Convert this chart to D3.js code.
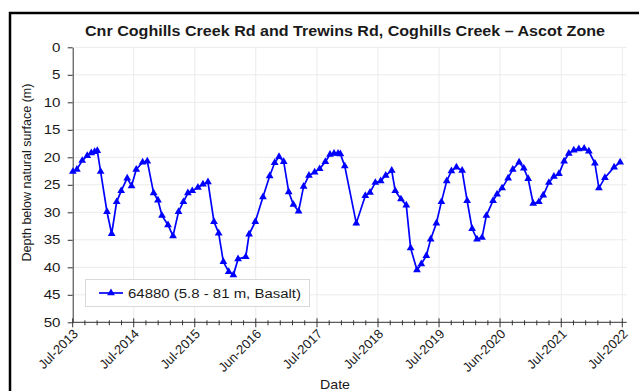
<!DOCTYPE html>
<html>
<head>
<meta charset="utf-8">
<script src="https://cdn.jsdelivr.net/npm/d3@7"></script>
<style>
  html, body { margin: 0; padding: 0; background: #fff; }
  svg { display: block; font-family: "Liberation Sans", Arial, sans-serif; }
</style>
</head>
<body>
<svg id="chart" width="639" height="391"></svg>
<script>
// Bore 64880 groundwater depth readings (m below natural surface)
const sampleDates = [
  "2013-07-02","2013-07-26","2013-08-27","2013-09-26","2013-10-20","2013-11-09","2013-11-25","2013-12-15",
  "2014-01-22","2014-02-19","2014-03-21","2014-04-17","2014-05-23","2014-06-18","2014-07-16","2014-08-23",
  "2014-09-20","2014-10-28","2014-11-23","2014-12-17","2015-01-22","2015-02-21","2015-03-26","2015-04-24",
  "2015-05-21","2015-06-16","2015-07-20","2015-08-19","2015-09-18","2015-10-24","2015-11-21","2015-12-19",
  "2016-01-20","2016-02-17","2016-03-16","2016-05-01","2016-05-21","2016-06-27","2016-08-12","2016-09-21",
  "2016-10-21","2016-11-16","2016-12-14","2017-01-13","2017-02-10","2017-03-13","2017-04-12","2017-05-14",
  "2017-06-17","2017-07-17","2017-08-20","2017-09-17","2017-10-11","2017-11-04","2017-11-18","2017-12-14",
  "2018-02-21","2018-04-16","2018-05-14","2018-06-15","2018-07-17","2018-08-16","2018-09-21","2018-10-12",
  "2018-11-15","2018-12-17","2019-01-12","2019-02-19","2019-03-17","2019-04-16","2019-05-12","2019-06-15",
  "2019-07-15","2019-08-16","2019-09-13","2019-10-13","2019-11-16","2019-12-16","2020-01-15","2020-02-13",
  "2020-03-14","2020-04-09","2020-05-19","2020-06-12","2020-07-12","2020-08-17","2020-09-14","2020-10-22",
  "2020-11-19","2020-12-15","2021-01-14","2021-02-17","2021-03-15","2021-04-18","2021-05-18","2021-06-17",
  "2021-07-18","2021-08-15","2021-09-14","2021-10-14","2021-11-15","2021-12-13","2022-01-18","2022-02-11",
  "2022-03-19","2022-05-13","2022-06-18"
];
const depths = [
  22.6, 22.2, 20.6, 19.7, 19.2, 19.0, 18.8, 22.6,
  29.9, 33.9, 28.1, 26.1, 23.8, 25.2, 22.2, 20.9,
  20.7, 26.5, 27.8, 30.6, 32.3, 34.3, 29.9, 28.1,
  26.5, 26.1, 25.5, 24.9, 24.5, 31.7, 33.8, 39.0,
  40.8, 41.4, 38.5, 38.1, 34.0, 31.7, 27.2, 23.4,
  21.0, 19.9, 20.8, 26.3, 28.6, 29.8, 25.3, 23.3,
  22.7, 22.1, 20.8, 19.5, 19.3, 19.3, 19.4, 21.6,
  32.0, 27.0, 26.4, 24.6, 24.3, 23.3, 22.4, 26.1,
  27.6, 28.7, 36.5, 40.5, 39.4, 37.9, 34.9, 32.0,
  28.1, 24.3, 22.5, 21.8, 22.4, 27.9, 33.0, 34.9,
  34.6, 30.6, 27.9, 26.7, 25.6, 23.8, 22.2, 20.9,
  22.0, 23.9, 28.4, 28.1, 26.9, 24.6, 23.5, 23.0,
  20.7, 19.3, 18.7, 18.5, 18.4, 18.9, 21.1, 25.6,
  23.7, 21.8, 20.9
];

// Date axis: major ticks roughly one year apart
const tickDates = [
  "2013-07-01","2014-07-01","2015-07-01","2016-06-30","2017-07-01",
  "2018-07-01","2019-07-01","2020-06-30","2021-07-01","2022-07-01"
];
const tickLabels = [
  "Jul-2013","Jul-2014","Jul-2015","Jun-2016","Jul-2017",
  "Jul-2018","Jul-2019","Jun-2020","Jul-2021","Jul-2022"
];
const depthTicks = [0, 5, 10, 15, 20, 25, 30, 35, 40, 45, 50];

const chartTitle = "Cnr Coghills Creek Rd and Trewins Rd, Coghills Creek \u2013 Ascot Zone";
const seriesName = "64880 (5.8 - 81 m, Basalt)";

const parse = d3.utcParse("%Y-%m-%d");
const data = sampleDates.map((d, i) => ({ date: parse(d), depth: depths[i] }));
const ticks = tickDates.map(parse);

const svg = d3.select("#chart");
const plotLeft = 72.7, plotRight = 626.7, plotTop = 47.3, plotBottom = 322.3;
const ink = "#1a1a1a", axisInk = "#333";

const x = d3.scaleUtc()
  .domain([ticks[0], ticks[ticks.length - 1]])
  .range([plotLeft, 622.3]);
const y = d3.scaleLinear().domain([0, 50]).range([plotTop, plotBottom]);

// outer frame
svg.append("rect")
  .attr("x", 10).attr("y", 13).attr("width", 660).attr("height", 420)
  .attr("fill", "none").attr("stroke", "#000").attr("stroke-width", 2.5);

// title (wide bold face)
svg.append("text")
  .attr("x", 85).attr("y", 36)
  .attr("font-size", 14).attr("font-weight", "bold")
  .attr("textLength", 520).attr("lengthAdjust", "spacingAndGlyphs")
  .attr("fill", ink)
  .text(chartTitle);

// gridlines
const grid = svg.append("g").attr("stroke", "#ebebeb").attr("stroke-width", 1);
grid.selectAll("line.h").data(depthTicks.slice(0, -1)).join("line")
  .attr("class", "h")
  .attr("x1", plotLeft).attr("x2", plotRight)
  .attr("y1", d => y(d)).attr("y2", d => y(d));
grid.selectAll("line.v").data(ticks.slice(1)).join("line")
  .attr("class", "v")
  .attr("x1", d => x(d)).attr("x2", d => x(d))
  .attr("y1", plotTop).attr("y2", plotBottom);

// y axis
const yAxis = svg.append("g")
  .attr("transform", `translate(${plotLeft},0)`)
  .call(d3.axisLeft(y).tickValues(depthTicks).tickSize(5).tickSizeOuter(0).tickFormat(""));
yAxis.select(".domain").attr("stroke", axisInk);
yAxis.selectAll(".tick line").attr("stroke", axisInk);
svg.append("g").selectAll("text").data(depthTicks).join("text")
  .attr("x", 60.5).attr("y", d => y(d)).attr("dy", "0.36em")
  .attr("text-anchor", "end")
  .attr("font-size", 13).attr("fill", ink)
  .attr("textLength", d => String(d).length * 8.4).attr("lengthAdjust", "spacingAndGlyphs")
  .text(d => d);

// x axis: minor ticks (5 divisions per year) then major ticks
const minor = [];
for (let i = 0; i < ticks.length - 1; i++) {
  const a = +ticks[i], b = +ticks[i + 1];
  for (let k = 1; k < 5; k++) minor.push(new Date(a + (b - a) * k / 5));
}
const xg = svg.append("g");
xg.append("line").attr("x1", plotLeft).attr("x2", plotRight)
  .attr("y1", plotBottom).attr("y2", plotBottom).attr("stroke", axisInk);
xg.selectAll("line.minor").data(minor).join("line")
  .attr("class", "minor")
  .attr("x1", d => x(d)).attr("x2", d => x(d))
  .attr("y1", plotBottom - 2).attr("y2", plotBottom + 3).attr("stroke", axisInk);
xg.selectAll("line.major").data(ticks).join("line")
  .attr("class", "major")
  .attr("x1", d => x(d)).attr("x2", d => x(d))
  .attr("y1", plotBottom - 4).attr("y2", plotBottom + 5).attr("stroke", axisInk);
xg.selectAll("text").data(ticks).join("text")
  .attr("transform", d => `translate(${x(d) + 3},${plotBottom + 9}) rotate(-45)`)
  .attr("text-anchor", "end")
  .attr("dy", "0.35em")
  .attr("font-size", 13).attr("fill", ink)
  .text((d, i) => tickLabels[i]);

// axis titles
svg.append("text")
  .attr("transform", "translate(31,172.5) rotate(-90)")
  .attr("text-anchor", "middle")
  .attr("font-size", 12.5).attr("fill", ink)
  .text("Depth below natural surface (m)");
svg.append("text")
  .attr("x", 320).attr("y", 389)
  .attr("font-size", 13).attr("fill", ink)
  .attr("textLength", 30).attr("lengthAdjust", "spacingAndGlyphs")
  .text("Date");

// series
const line = d3.line().x(d => x(d.date)).y(d => y(d.depth));
const tri = d3.symbol().type(d3.symbolTriangle).size(26);
svg.append("path").datum(data)
  .attr("d", line).attr("fill", "none")
  .attr("stroke", "#0000ff").attr("stroke-width", 1.7);
svg.append("g").selectAll("path").data(data).join("path")
  .attr("transform", d => `translate(${x(d.date)},${y(d.depth)})`)
  .attr("d", tri).attr("fill", "#0000ff");

// legend
const lg = svg.append("g");
lg.append("rect").attr("x", 85.5).attr("y", 279.5).attr("width", 224).attr("height", 27)
  .attr("fill", "#fff").attr("stroke", "#d9d9d9");
lg.append("line").attr("x1", 99).attr("x2", 123).attr("y1", 293).attr("y2", 293)
  .attr("stroke", "#0000ff").attr("stroke-width", 1.7);
lg.append("path").attr("transform", "translate(111,293)").attr("d", tri).attr("fill", "#0000ff");
lg.append("text").attr("x", 128).attr("y", 297.5)
  .attr("font-size", 12.5).attr("fill", ink)
  .attr("textLength", 173).attr("lengthAdjust", "spacingAndGlyphs")
  .text(seriesName);
</script>
</body>
</html>
